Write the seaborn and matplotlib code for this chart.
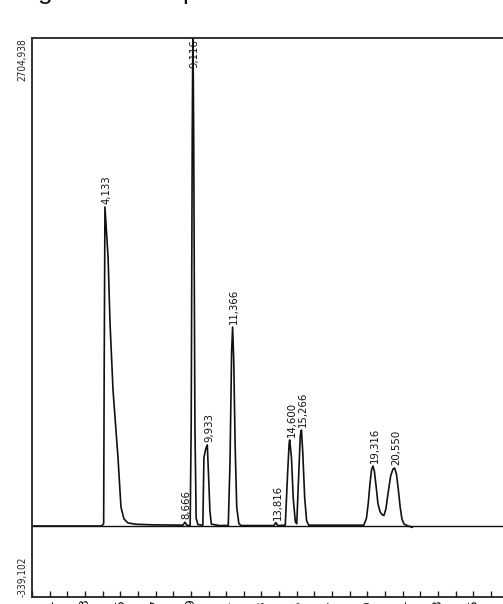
import matplotlib
matplotlib.use("Agg")
import matplotlib.pyplot as plt
from matplotlib import font_manager
from matplotlib.ticker import FixedLocator, FixedFormatter
import pandas as pd
import seaborn as sns

# ---- chromatogram data (time in min, detector signal) ----
# labelled peaks: retention time, apex signal, label text
peak_rt = [4.133, 8.666, 9.116, 9.933, 11.366, 13.816, 14.600, 15.266, 19.316, 20.550]
peak_height = [1785, 68, 2760, 489, 1131, 66, 516, 570, 374, 363]
peak_labels = ["4,133", "8,666", "9,116", "9,933", "11,366", "13,816",
               "14,600", "15,266", "19,316", "20,550"]

# trace points between the apexes
trace_t = [0.0, 3.95, 4.06, 4.09, 4.31, 4.42, 4.59, 4.87, 5.04, 5.21, 5.44, 5.90,
           6.80, 8.55, 8.78, 8.96, 9.02, 9.08, 9.16, 9.23, 9.30, 9.40, 9.68,
           9.74, 9.85, 10.00, 10.08, 10.16, 10.60, 11.12, 11.22, 11.31, 11.43,
           11.51, 11.60, 11.72, 11.85, 13.70, 13.92, 14.35, 14.48, 14.57, 14.70,
           14.80, 14.92, 15.00, 15.10, 15.20, 15.34, 15.45, 15.56, 15.68, 18.80,
           18.95, 19.05, 19.15, 19.24, 19.40, 19.50, 19.60, 19.72, 19.85, 19.94,
           20.05, 20.18, 20.32, 20.45, 20.65, 20.75, 20.86, 20.96, 21.08, 21.25,
           21.55]
trace_v = [47.5, 47.5, 60, 900, 1512, 1153, 788, 423, 151, 86, 64, 57,
           54, 52, 51, 50, 600, 2200, 2200, 600, 90, 55, 52,
           420, 470, 330, 130, 58, 50, 50, 400, 1000, 950,
           480, 150, 60, 50, 50, 50, 52, 330, 500, 420,
           200, 70, 60, 300, 540, 450, 200, 75, 52, 52,
           90, 170, 280, 355, 345, 260, 170, 125, 108, 105,
           140, 230, 320, 358, 330, 250, 150, 85, 58, 50,
           40]

baseline_level = 47.5
y_min, y_max = -339.102, 2704.938
y_labels = ["-339,102", "2704,938"]
x_ticks = list(range(0, 28))
x_ticklabels = [str(t) if t % 2 == 1 else "" for t in x_ticks]

sns.set_style("white")
plt.rcParams["font.family"] = ["DejaVu Sans"]

# narrow face for the rotated labels
names = {f.name for f in font_manager.fontManager.ttflist}
if "Liberation Sans Narrow" in names:
    def label_font(size):
        return font_manager.FontProperties(family="Liberation Sans Narrow", size=size)
else:
    def label_font(size):
        return font_manager.FontProperties(family="DejaVu Sans", stretch="condensed",
                                           size=size * 0.85)

df = pd.DataFrame({"t": trace_t + peak_rt, "v": trace_v + peak_height})
df = df.sort_values("t").reset_index(drop=True)

W, H = 503, 604
fig = plt.figure(figsize=(W / 100, H / 100), dpi=100)
px_per_min = 17.65
x_max = 27.5
ax_left, ax_top, ax_bottom = 32, 38, 597
ax = fig.add_axes([ax_left / W, (H - ax_bottom) / H,
                   x_max * px_per_min / W, (ax_bottom - ax_top) / H])

sns.lineplot(data=df, x="t", y="v", ax=ax, color="#111111", linewidth=1.2,
             estimator=None, sort=False)
ax.axhline(baseline_level, color="#111111", linewidth=1.0)

ax.set_xlim(0, x_max)
ax.set_ylim(y_min, y_max)
ax.set_xlabel("")
ax.set_ylabel("")

for s in ax.spines.values():
    s.set_color("#222222")
    s.set_linewidth(1.3)
ax.spines["right"].set_visible(False)

# x axis: a tick every minute, odd minutes labelled
ax.xaxis.set_major_locator(FixedLocator(x_ticks))
ax.xaxis.set_major_formatter(FixedFormatter(x_ticklabels))
ax.tick_params(axis="x", bottom=True, labelbottom=True, direction="in",
               length=4, width=1.0, color="#222222", pad=1.5, labelsize=9,
               labelrotation=90, labelcolor="#111111")
for lab in ax.get_xticklabels():
    lab.set_va("top")

# y axis: only the range limits, rotated
ax.set_yticks([y_min, y_max])
ax.set_yticklabels(y_labels)
ax.tick_params(axis="y", left=False, labelleft=True, length=0, pad=3)
for lab, va in zip(ax.get_yticklabels(), ["bottom", "top"]):
    lab.set_fontproperties(label_font(8.5))
    lab.set_rotation(90)
    lab.set_va(va)
    lab.set_ha("right")

# peak retention-time labels above each apex
gap = 16
for rt, h, txt in zip(peak_rt, peak_height, peak_labels):
    if h + gap < y_max - 150:
        ax.text(rt + 0.1, h + gap, txt, rotation=90, ha="center", va="bottom",
                color="#111111", fontproperties=label_font(9.5))
    else:
        ax.text(rt + 0.1, y_max - 5, txt, rotation=90, ha="center", va="top",
                color="#111111", fontproperties=label_font(9.5))

# caption line above the chart, mostly outside the canvas
fig.text(45 / W, 1.0 + 1.5 / H, "g", fontsize=19, ha="center", va="baseline",
         family="Liberation Sans", color="#111111")
fig.text(190 / W, 1.0 + 1.5 / H, "p", fontsize=19, ha="center", va="baseline",
         family="Liberation Sans", color="#111111")

fig.savefig("out.png", dpi=100)
